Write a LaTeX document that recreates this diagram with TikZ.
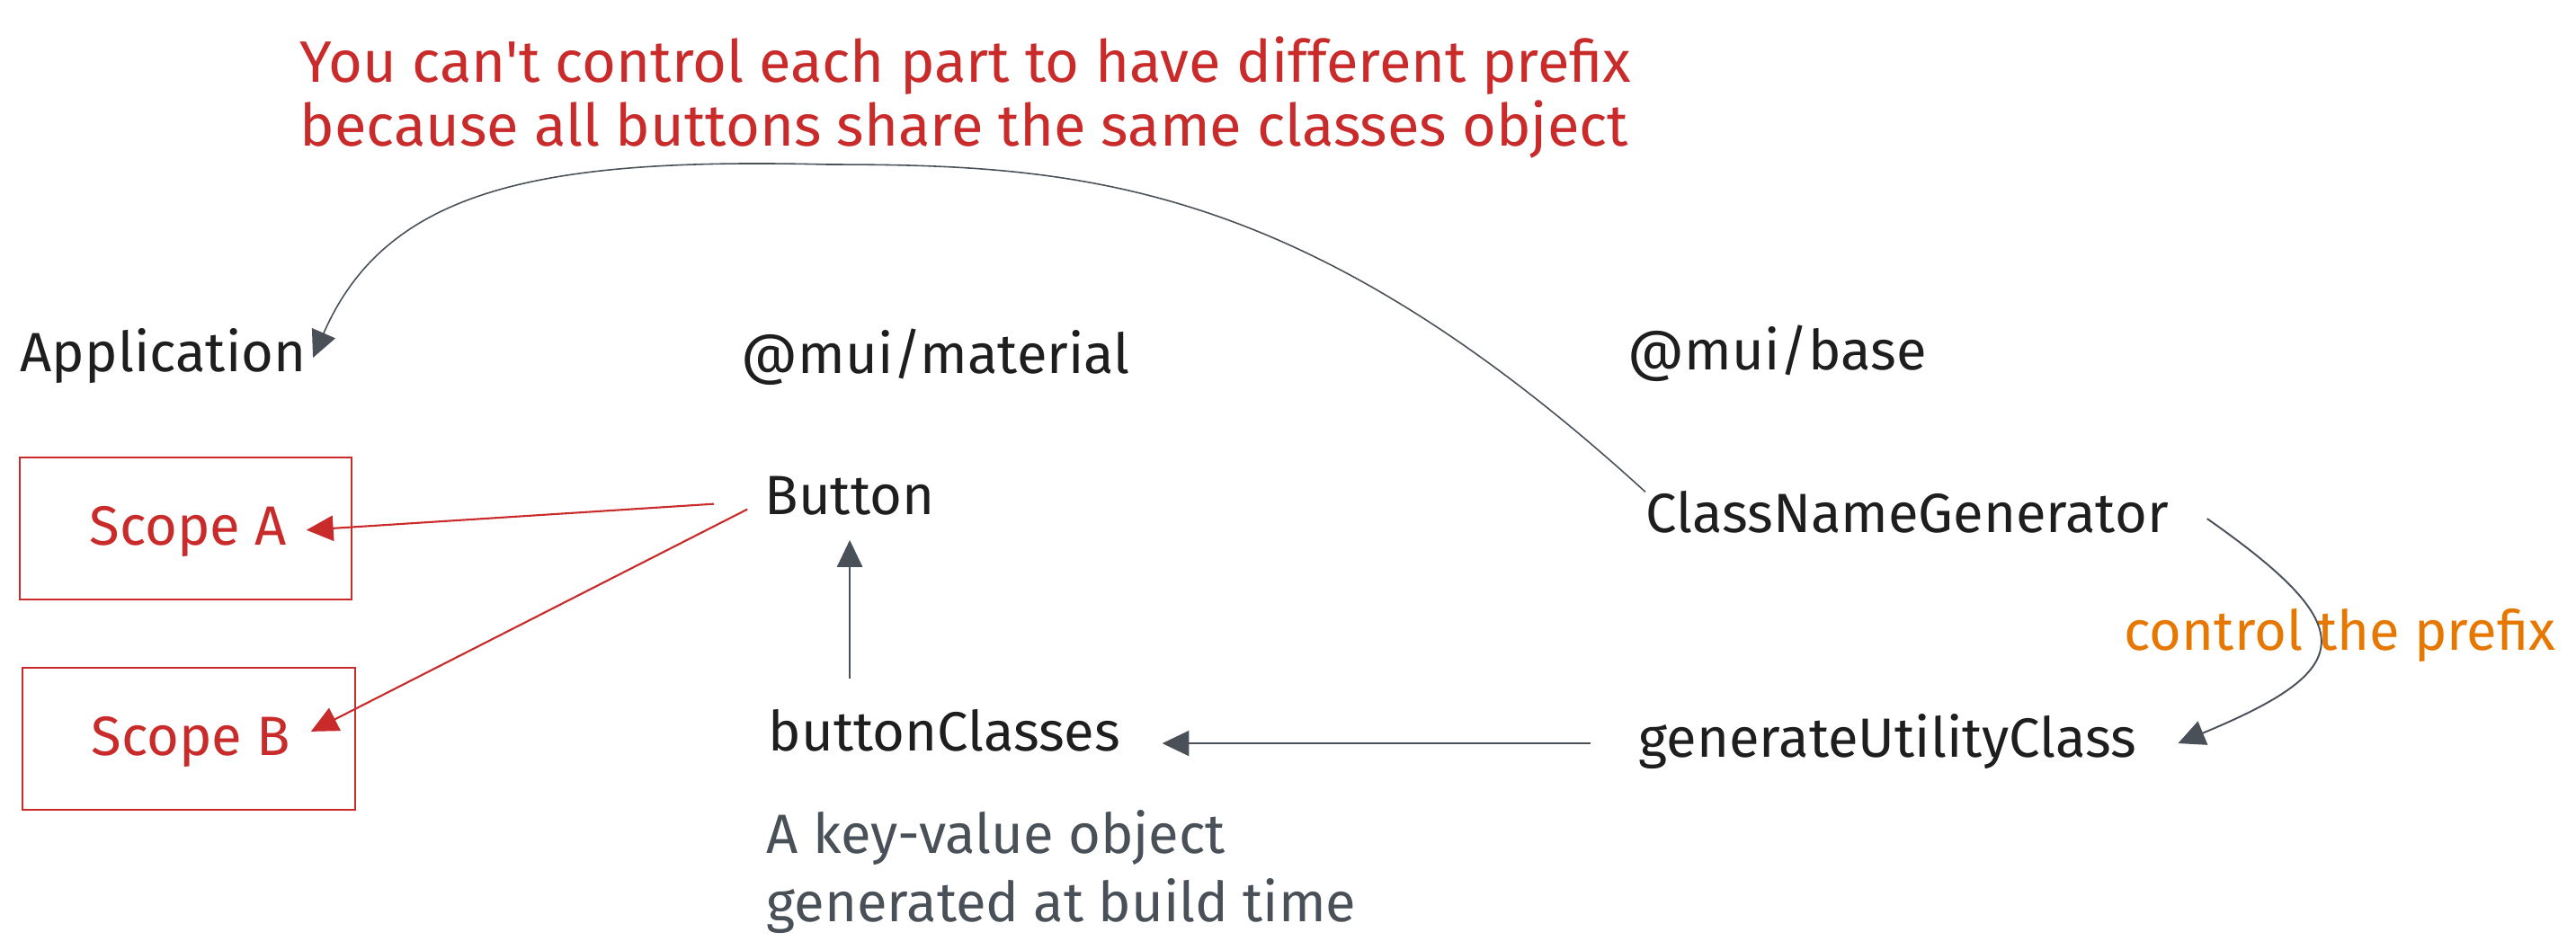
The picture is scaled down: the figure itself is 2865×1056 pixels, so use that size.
\documentclass[tikz,border=0pt]{standalone}
\usepackage{fontspec}
\setmainfont{Fira Sans}
\usetikzlibrary{arrows.meta}
\definecolor{inkred}{HTML}{C92A2A}
\definecolor{inkorange}{HTML}{E67700}
\definecolor{slate}{HTML}{495057}
\definecolor{ink}{HTML}{1E1E1E}
\begin{document}
\begin{tikzpicture}[x=0.01cm, y=-0.01cm,
  every node/.style={font=\fontsize{17.5}{21}\selectfont, inner sep=0pt, text height=12.5pt, text depth=4pt},
  lbl/.style={text=ink, anchor=base west},
  scopebox/.style={draw=inkred, line width=0.6pt, minimum width=3.69cm, minimum height=1.58cm},
  redarr/.style={draw=inkred, line width=0.6pt, -{Triangle[length=8.5pt,width=8pt]}},
  grayarr/.style={draw=slate, line width=0.55pt, -{Triangle[length=8.5pt,width=8pt]}}]
\useasboundingbox (0,0) rectangle (2865,1056);
% packages
\node[lbl] (app) at (22,413) {Application};
\node[lbl] (mat) at (824,415) {@mui/material};
\node[lbl] (base) at (1810,411) {@mui/base};
% application scopes
\node[scopebox] (boxA) at (206.5,588) {};
\node[scopebox] (boxB) at (210,822) {};
\node[lbl, text=inkred] (scopeA) at (99,606) {Scope A};
\node[lbl, text=inkred] (scopeB) at (101,840) {Scope B};
% material side
\node[lbl] (btn) at (850,572) {Button};
\node[lbl] (bc) at (854,835) {buttonClasses};
\node[lbl, text=slate, align=left, text height=, text depth=, font=\fontsize{17.5}{21.5}\selectfont] (bcnote) at (852,1025) {A key-value object\\generated at build time};
% base side
\node[lbl] (cng) at (1830,592) {ClassNameGenerator};
\node[lbl] (gen) at (1822,842) {generateUtilityClass};
\node[lbl, text=inkorange] (ctl) at (2362,723) {control the prefix};
\node[lbl, text=inkred, align=left, text height=, text depth=, font=\fontsize{18.5}{20}\selectfont] (why) at (333,162) {You can\textquotesingle t control each part to have different prefix\\because all buttons share the same classes object};
% connectors
\draw[redarr, shorten <=16pt, shorten >=6pt] (btn.west) -- (scopeA.east);
\draw[redarr, shorten <=6pt, shorten >=7pt] (btn.west) -- (scopeB.east);
\draw[grayarr, shorten <=10pt, shorten >=4pt] (bc.north -| btn.south) -- (btn.south);
\draw[grayarr, shorten <=15pt, shorten >=13pt] (gen.west) -- (bc.east |- gen.west);
\draw[grayarr] ([xshift=12pt]cng.east) .. controls (2630,700) and (2620,745) .. ([xshift=13pt]gen.east);
\draw[grayarr, line width=0.45pt] (cng.north west) .. controls (1450,200) and (1200,183) .. (921,183)
  .. controls (600,175) and (430,210) .. ([xshift=2pt]app.east);
\end{tikzpicture}
\end{document}
